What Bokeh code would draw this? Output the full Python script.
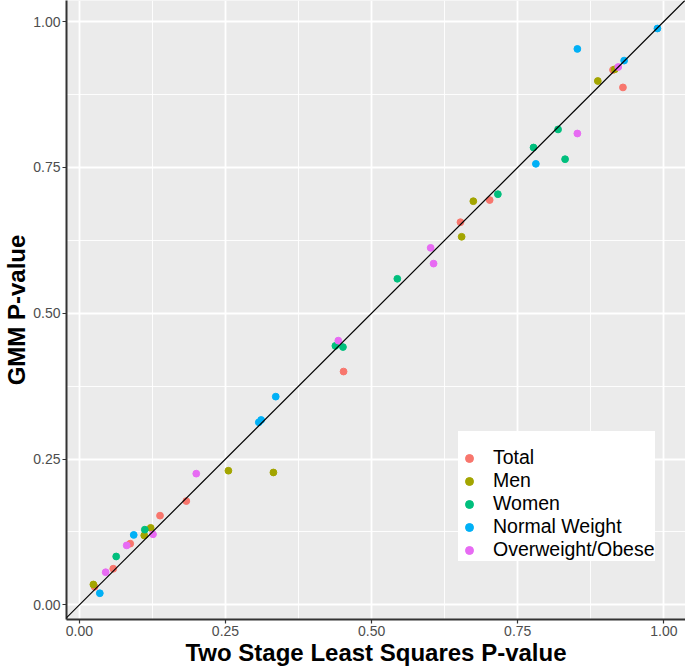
from bokeh.plotting import figure
from bokeh.models import Range1d, FixedTicker, Slope, Legend, LegendItem, ColumnDataSource
from bokeh.embed import file_html
from bokeh.resources import INLINE

# ---- data ----
groups = ["Total", "Men", "Women", "Normal Weight", "Overweight/Obese"]
colors = ["#F8766D", "#A3A500", "#00BF7D", "#00B0F6", "#E76BF3"]

total_x = [0.026, 0.058, 0.087, 0.138, 0.183, 0.452, 0.652, 0.702, 0.913, 0.930]
total_y = [0.031, 0.062, 0.105, 0.153, 0.178, 0.400, 0.656, 0.694, 0.917, 0.887]

men_x = [0.024, 0.111, 0.122, 0.255, 0.332, 0.654, 0.674, 0.887, 0.916]
men_y = [0.035, 0.119, 0.132, 0.230, 0.227, 0.631, 0.692, 0.898, 0.918]

women_x = [0.063, 0.112, 0.438, 0.451, 0.544, 0.716, 0.777, 0.819, 0.831]
women_y = [0.083, 0.129, 0.444, 0.442, 0.559, 0.704, 0.784, 0.815, 0.764]

normal_x = [0.035, 0.093, 0.307, 0.311, 0.336, 0.781, 0.852, 0.932, 0.989]
normal_y = [0.020, 0.120, 0.313, 0.317, 0.357, 0.756, 0.953, 0.933, 0.988]

over_x = [0.045, 0.081, 0.126, 0.200, 0.443, 0.601, 0.606, 0.852, 0.922]
over_y = [0.056, 0.102, 0.121, 0.225, 0.453, 0.612, 0.585, 0.808, 0.922]

major_ticks = [0.0, 0.25, 0.5, 0.75, 1.0]
minor_ticks = [0.125, 0.375, 0.625, 0.875]
tick_labels = ["0.00", "0.25", "0.50", "0.75", "1.00"]

series_x = [total_x, men_x, women_x, normal_x, over_x]
series_y = [total_y, men_y, women_y, normal_y, over_y]

FONT = "Liberation Sans"

p = figure(width=685, height=668, output_backend="svg", toolbar_location=None,
           x_range=Range1d(-0.022, 1.037), y_range=Range1d(-0.025, 1.036),
           min_border_left=0, min_border_right=0, min_border_top=0, min_border_bottom=0)

p.background_fill_color = "#EBEBEB"
p.border_fill_color = "white"
p.outline_line_color = None

for ax in (p.xaxis, p.yaxis):
    ax.ticker = FixedTicker(ticks=major_ticks, minor_ticks=minor_ticks)
    ax.major_label_overrides = {t: l for t, l in zip(major_ticks, tick_labels)}
    ax.major_label_text_font = FONT
    ax.major_label_text_font_size = "14px"
    ax.major_label_text_color = "#4D4D4D"
    ax.axis_label_text_font = FONT
    ax.axis_label_text_font_style = "bold"
    ax.axis_label_text_font_size = "24px"
    ax.axis_label_text_color = "black"
    ax.axis_line_color = "#333333"
    ax.axis_line_width = 2
    ax.major_tick_line_color = "#333333"
    ax.major_tick_line_width = 1.2
    ax.major_tick_out = 4
    ax.major_tick_in = 0
    ax.minor_tick_line_color = None
    ax.major_label_standoff = 2
    ax.axis_label_standoff = 0

p.xaxis.axis_label = "Two Stage Least Squares P-value"
p.yaxis.axis_label = "GMM P-value"

for g in (p.xgrid, p.ygrid):
    g.grid_line_color = "white"
    g.grid_line_width = 1.8
    g.minor_grid_line_color = "white"
    g.minor_grid_line_width = 0.9

# identity line
p.add_layout(Slope(gradient=1, y_intercept=0, line_color="black", line_width=1.2))

items = []
for name, col, xs, ys in zip(groups, colors, series_x, series_y):
    src = ColumnDataSource(dict(x=xs, y=ys))
    r = p.scatter("x", "y", source=src, size=6.8, fill_color=col, line_color=col)
    items.append(LegendItem(label=name, renderers=[r]))

legend = Legend(items=items, location=(392, 58), title=" ",
                title_text_font_size="9px", title_standoff=5,
                label_text_font=FONT, label_text_font_size="19.5px", label_text_color="black",
                label_height=20, glyph_height=20, glyph_width=22, label_standoff=13,
                spacing=0, padding=8, margin=0,
                background_fill_color="white", background_fill_alpha=1.0,
                border_line_color=None)
p.add_layout(legend, "center")

open("out.html", "w").write(file_html(p, INLINE))
